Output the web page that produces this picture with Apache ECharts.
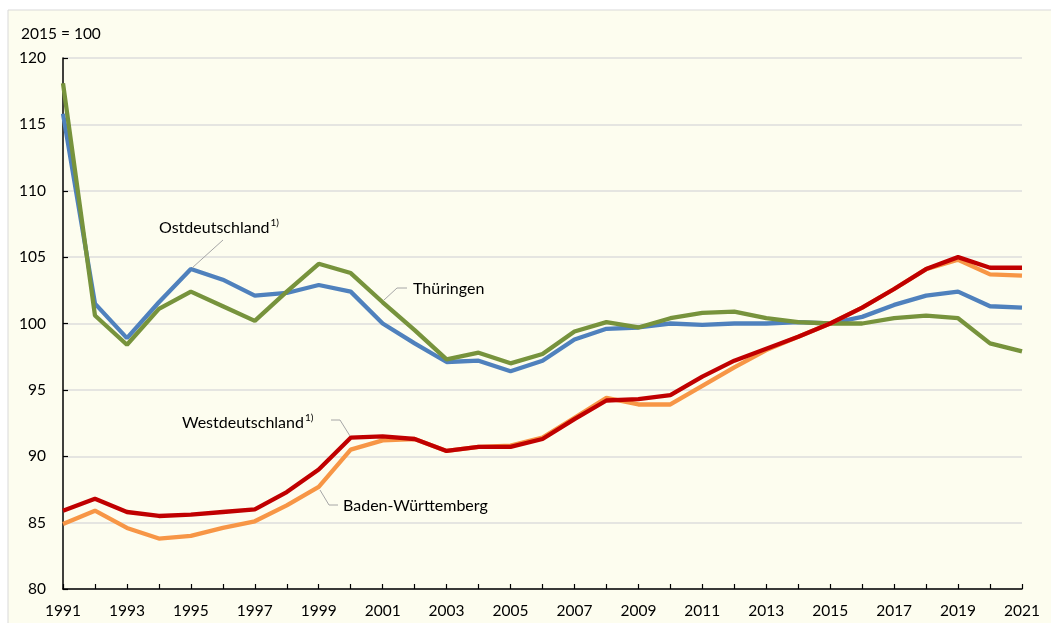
<!DOCTYPE html>
<html>
<head>
<meta charset="utf-8">
<script src="https://cdn.jsdelivr.net/npm/echarts@6/dist/echarts.min.js"></script>
<style>
  html, body { margin: 0; padding: 0; background: #fff; }
  #main { width: 1051px; height: 623px; }
</style>
</head>
<body>
<div id="main"></div>
<script>
// Jahre 1991 - 2021
var years = [];
for (var y = 1991; y <= 2021; y++) years.push(String(y));

var ost = [115.8, 101.5, 98.9, 101.6, 104.1, 103.3, 102.1, 102.3, 102.9, 102.4,
  100.0, 98.5, 97.1, 97.2, 96.4, 97.2, 98.8, 99.6, 99.7, 100.0,
  99.9, 100.0, 100.0, 100.1, 100.0, 100.5, 101.4, 102.1, 102.4, 101.3, 101.2];
var thueringen = [118.1, 100.6, 98.4, 101.1, 102.4, 101.3, 100.2, 102.4, 104.5, 103.8,
  101.6, 99.5, 97.3, 97.8, 97.0, 97.7, 99.4, 100.1, 99.7, 100.4,
  100.8, 100.9, 100.4, 100.1, 100.0, 100.0, 100.4, 100.6, 100.4, 98.5, 97.9];
var west = [85.9, 86.8, 85.8, 85.5, 85.6, 85.8, 86.0, 87.3, 89.0, 91.4,
  91.5, 91.3, 90.4, 90.7, 90.7, 91.3, 92.8, 94.2, 94.3, 94.6,
  96.0, 97.2, 98.1, 99.0, 100.0, 101.2, 102.6, 104.1, 105.0, 104.2, 104.2];
var bw = [84.9, 85.9, 84.6, 83.8, 84.0, 84.6, 85.1, 86.3, 87.7, 90.5,
  91.2, 91.3, 90.4, 90.7, 90.8, 91.4, 92.9, 94.4, 93.9, 93.9,
  95.3, 96.7, 98.0, 99.0, 100.0, 101.2, 102.6, 104.1, 104.8, 103.7, 103.6];

var font = 'Lato, "Noto Sans", sans-serif';
var bg = '#fdfdef';

var chart = echarts.init(document.getElementById('main'), null, { renderer: 'canvas' });

function lbl(x, y, text, sup) {
  return {
    type: 'text', left: x, top: y, z: 100,
    style: {
      text: sup ? '{a|' + text + '}{s|1)}' : text,
      font: '16px ' + font, fill: '#000',
      rich: {
        a: { fontSize: 16, fontFamily: font, fill: '#000', height: 20 },
        s: { fontSize: 10, fontFamily: font, fill: '#000', verticalAlign: 'top', padding: [0, 0, 8, 1] }
      }
    }
  };
}
function leader(pts) {
  return { type: 'polyline', z: 100, shape: { points: pts }, style: { stroke: '#a6a6a6', lineWidth: 1, fill: null } };
}

var option = {
  backgroundColor: '#fff',
  animation: false,
  textStyle: { fontFamily: font },
  grid: { left: 63, top: 58, right: 29, bottom: 34, containLabel: false },
  graphic: [
    { type: 'rect', z: -10, silent: true, shape: { x: 8, y: 10, width: 1060, height: 640 },
      style: { fill: bg, stroke: '#d9d9d9', lineWidth: 1 } },
    { type: 'text', left: 21, top: 26, style: { text: '2015 = 100', font: '15.5px ' + font, fill: '#000' } },
    lbl(159, 218, 'Ostdeutschland', true),
    leader([[223, 240], [192, 268]]),
    lbl(413, 281, 'Thüringen', false),
    leader([[407, 288], [397, 288], [384, 300]]),
    lbl(182, 413, 'Westdeutschland', true),
    leader([[331, 420], [340, 420], [350, 436]]),
    lbl(343, 498, 'Baden-Württemberg', false),
    leader([[338, 505], [329, 505], [320, 490]])
  ],
  xAxis: {
    type: 'category',
    data: years,
    boundaryGap: false,
    axisLine: { lineStyle: { color: '#000', width: 1.5 } },
    axisTick: { inside: true, length: 5, interval: 0, lineStyle: { color: '#000', width: 1.2 } },
    axisLabel: { interval: 1, color: '#000', fontSize: 15.5, fontFamily: font, margin: 14 },
    splitLine: { show: false }
  },
  yAxis: {
    type: 'value',
    min: 80, max: 120, interval: 5,
    axisLine: { show: true, lineStyle: { color: '#000', width: 1.5 } },
    axisTick: { show: true, inside: true, length: 5, lineStyle: { color: '#000', width: 1.2 } },
    axisLabel: { color: '#000', fontSize: 15.5, fontFamily: font, margin: 17 },
    splitLine: { lineStyle: { color: '#dcdcdc', width: 1.5 } }
  },
  series: [
    { name: 'Ostdeutschland', type: 'line', data: ost, showSymbol: false,
      lineStyle: { color: '#4f81bd', width: 4.3 }, itemStyle: { color: '#4f81bd' } },
    { name: 'Thüringen', type: 'line', data: thueringen, showSymbol: false,
      lineStyle: { color: '#77933c', width: 4.3 }, itemStyle: { color: '#77933c' } },
    { name: 'Baden-Württemberg', type: 'line', data: bw, showSymbol: false,
      lineStyle: { color: '#f79646', width: 4.3 }, itemStyle: { color: '#f79646' } },
    { name: 'Westdeutschland', type: 'line', data: west, showSymbol: false,
      lineStyle: { color: '#c00000', width: 4.3 }, itemStyle: { color: '#c00000' } }
  ]
};
chart.setOption(option);
</script>
</body>
</html>
